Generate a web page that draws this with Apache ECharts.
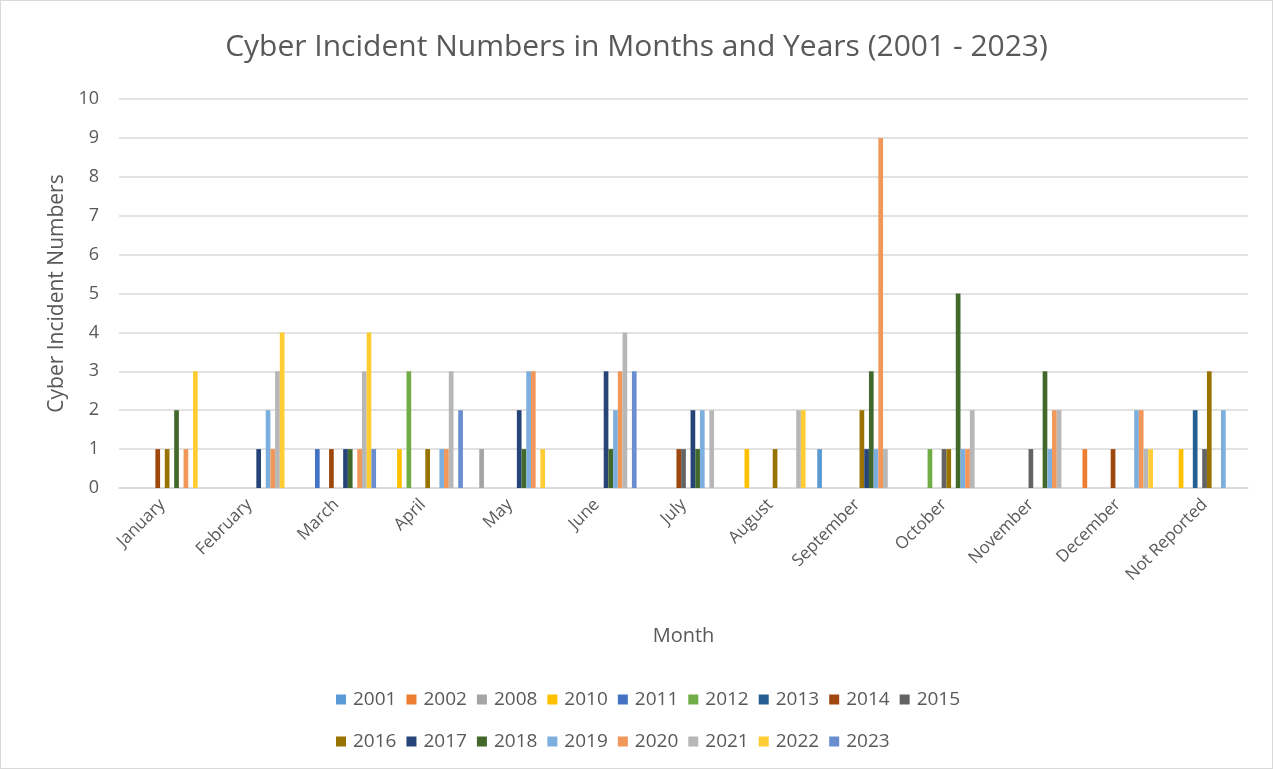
<!DOCTYPE html>
<html>
<head>
<meta charset="utf-8">
<script src="https://cdn.jsdelivr.net/npm/echarts@6/dist/echarts.min.js"></script>
<style>
  html, body { margin: 0; padding: 0; background: #fff; }
  #chart { width: 1271px; height: 767px; border: 1px solid #D9D9D9; }
</style>
</head>
<body>
<div id="chart"></div>
<script>
// Months on the category axis
const months = ['January', 'February', 'March', 'April', 'May', 'June', 'July',
  'August', 'September', 'October', 'November', 'December', 'Not Reported'];

// Incident counts per year, one value per month (Jan .. Dec, Not Reported)
const y2001 = [0, 0, 0, 0, 0, 0, 0, 0, 1, 0, 0, 0, 0];
const y2002 = [0, 0, 0, 0, 0, 0, 0, 0, 0, 0, 0, 1, 0];
const y2008 = [0, 0, 0, 0, 1, 0, 0, 0, 0, 0, 0, 0, 0];
const y2010 = [0, 0, 0, 1, 0, 0, 0, 1, 0, 0, 0, 0, 1];
const y2011 = [0, 0, 1, 0, 0, 0, 0, 0, 0, 0, 0, 0, 0];
const y2012 = [0, 0, 0, 3, 0, 0, 0, 0, 0, 1, 0, 0, 0];
const y2013 = [0, 0, 0, 0, 0, 0, 0, 0, 0, 0, 0, 0, 2];
const y2014 = [1, 0, 1, 0, 0, 0, 1, 0, 0, 0, 0, 1, 0];
const y2015 = [0, 0, 0, 0, 0, 0, 1, 0, 0, 1, 1, 0, 1];
const y2016 = [1, 0, 0, 1, 0, 0, 0, 1, 2, 1, 0, 0, 3];
const y2017 = [0, 1, 1, 0, 2, 3, 2, 0, 1, 0, 0, 0, 0];
const y2018 = [2, 0, 1, 0, 1, 1, 1, 0, 3, 5, 3, 0, 0];
const y2019 = [0, 2, 0, 1, 3, 2, 2, 0, 1, 1, 1, 2, 2];
const y2020 = [1, 1, 1, 1, 3, 3, 0, 0, 9, 1, 2, 2, 0];
const y2021 = [0, 3, 3, 3, 0, 4, 2, 2, 1, 2, 2, 1, 0];
const y2022 = [3, 4, 4, 0, 1, 0, 0, 2, 0, 0, 0, 1, 0];
const y2023 = [0, 0, 1, 2, 0, 3, 0, 0, 0, 0, 0, 0, 0];

const years = ['2001', '2002', '2008', '2010', '2011', '2012', '2013', '2014', '2015',
  '2016', '2017', '2018', '2019', '2020', '2021', '2022', '2023'];
const yearValues = [y2001, y2002, y2008, y2010, y2011, y2012, y2013, y2014, y2015,
  y2016, y2017, y2018, y2019, y2020, y2021, y2022, y2023];

// Y-axis range
const yMin = 0;
const yMax = 10;
const yStep = 1;

const palette = ['#5B9BD5', '#ED7D31', '#A5A5A5', '#FFC000', '#4472C4', '#70AD47',
  '#255E91', '#9E480E', '#636363', '#997300', '#264478', '#43682B',
  '#7CAFDD', '#F1975A', '#B7B7B7', '#FFCD33', '#698ED0'];

const textColor = '#595959';
const fontFamily = 'Open Sans, Noto Sans, sans-serif';

const chart = echarts.init(document.getElementById('chart'));

// Both legend rows start at the same left edge
const legendCommon = {
  left: 330,
  itemWidth: 10,
  itemHeight: 10,
  itemGap: 10,
  icon: 'rect',
  textStyle: { color: textColor, fontSize: 19, fontFamily: fontFamily, padding: [0, 0, 0, 2] }
};

chart.setOption({
  animation: false,
  color: palette,
  title: {
    text: 'Cyber Incident Numbers in Months and Years (2001 - 2023)',
    left: 'center',
    top: 26,
    textStyle: { color: textColor, fontSize: 30, fontWeight: 'normal', fontFamily: fontFamily }
  },
  legend: [
    Object.assign({ top: 684, data: years.slice(0, 9) }, legendCommon),
    Object.assign({ top: 726, data: years.slice(9) }, legendCommon)
  ],
  grid: { left: 118, right: 24, top: 98, bottom: 280, containLabel: false },
  xAxis: {
    type: 'category',
    data: months,
    name: 'Month',
    nameLocation: 'middle',
    nameGap: 138,
    nameTextStyle: { color: textColor, fontSize: 20, fontFamily: fontFamily },
    axisLine: { show: true, lineStyle: { color: '#D9D9D9', width: 1.5 } },
    axisTick: { show: false },
    axisLabel: { color: textColor, fontSize: 17, fontFamily: fontFamily, rotate: 45, margin: 14, interval: 0 }
  },
  yAxis: {
    type: 'value',
    min: yMin,
    max: yMax,
    interval: yStep,
    name: 'Cyber Incident Numbers',
    nameLocation: 'middle',
    nameGap: 51,
    nameRotate: 90,
    nameTextStyle: { color: textColor, fontSize: 21, fontFamily: fontFamily },
    axisLine: { show: false },
    axisTick: { show: false },
    axisLabel: { color: textColor, fontSize: 18, fontFamily: fontFamily, margin: 20 },
    splitLine: { lineStyle: { color: '#D9D9D9', width: 1.5 } }
  },
  series: years.map((yr, i) => ({
    name: yr,
    type: 'bar',
    data: yearValues[i],
    barGap: '0%',
    barCategoryGap: '8%'
  }))
});
</script>
</body>
</html>
